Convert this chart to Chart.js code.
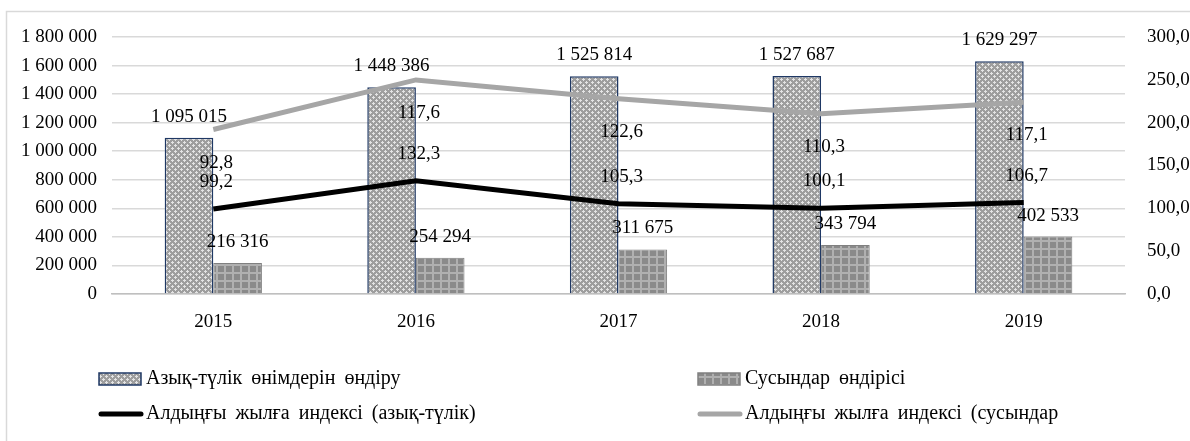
<!DOCTYPE html>
<html><head><meta charset="utf-8">
<script src="https://cdn.jsdelivr.net/npm/chart.js@4.4.0/dist/chart.umd.min.js"></script>
<style>html,body{margin:0;padding:0;background:#fff}#wrap{width:1190px;height:441px;position:relative}</style>
</head><body><div id="wrap"><canvas id="c" width="1190" height="441"></canvas></div>
<script>
const years = ['2015', '2016', '2017', '2018', '2019'];
const foodProduction = [1095015, 1448386, 1525814, 1527687, 1629297];
const drinksProduction = [216316, 254294, 311675, 343794, 402533];
const foodIndex = [99.2, 132.3, 105.3, 100.1, 106.7];
const drinksIndex = [92.8, 117.6, 122.6, 110.3, 117.1];
const seriesNames = ['Азық-түлік өнімдерін өндіру', 'Сусындар өндірісі', 'Алдыңғы жылға индексі (азық-түлік)', 'Алдыңғы жылға индексі (сусындар'];

const FONT = '"Liberation Serif", "Times New Roman", serif';

function makePattern(size, draw) {
  const c = document.createElement('canvas');
  c.width = size; c.height = size;
  const g = c.getContext('2d');
  draw(g);
  return document.getElementById('c').getContext('2d').createPattern(c, 'repeat');
}
const foodPattern = makePattern(6, g => {
  g.fillStyle = '#9e9e9e'; g.fillRect(0, 0, 6, 6);
  g.fillStyle = '#e4e4e4';
  g.fillRect(1, 0, 1, 3); g.fillRect(0, 1, 3, 1);
  g.fillRect(4, 3, 1, 3); g.fillRect(3, 4, 3, 1);
});
const drinksPattern = makePattern(8, g => {
  g.fillStyle = '#8a8a8a'; g.fillRect(0, 0, 8, 8);
  g.fillStyle = '#b0b0b0';
  g.fillRect(0, 0, 8, 2); g.fillRect(0, 0, 2, 8);
});

const fmtSpace = v => Math.round(v).toString().replace(/\B(?=(\d{3})+(?!\d))/g, ' ');
const fmtComma = v => Number(v).toFixed(1).replace('.', ',');

const decorPlugin = {
  id: 'decor',
  beforeDraw(chart) {
    const ctx = chart.ctx;
    ctx.save();
    ctx.fillStyle = '#fff';
    ctx.fillRect(0, 0, chart.width, chart.height);
    ctx.strokeStyle = '#d9d9d9';
    ctx.lineWidth = 1.5;
    ctx.strokeRect(6.5, 11.5, 1300, 600);
    ctx.restore();
  },
  afterDatasetsDraw(chart) {
    const ctx = chart.ctx;
    ctx.save();
    ctx.font = '19px ' + FONT;
    ctx.fillStyle = '#000';
    ctx.textAlign = 'center';
    ctx.textBaseline = 'middle';
    chart.data.datasets.forEach((ds, i) => {
      const meta = chart.getDatasetMeta(i);
      meta.data.forEach((el, j) => {
        const v = ds.data[j];
        if (ds.type === 'bar') {
          ctx.fillText(fmtSpace(v), el.x, el.y - 21);
        } else if (ds.labelSide === 'above') {
          ctx.fillText(fmtComma(v), el.x + 3, el.y - 27);
        } else {
          ctx.fillText(fmtComma(v), el.x + 3, el.y + 33);
        }
      });
    });
    ctx.restore();
  },
  afterDraw(chart) {
    const ctx = chart.ctx;
    ctx.save();
    ctx.font = '20px ' + FONT;
    ctx.fillStyle = '#000';
    ctx.textAlign = 'left';
    ctx.textBaseline = 'middle';
    try { ctx.wordSpacing = '4px'; } catch (e) {}
    const cols = [99, 698];
    const rows = [379, 414];
    const ds = chart.data.datasets;
    const items = [ds[2], ds[3], ds[0], ds[1]];
    items.forEach((d, k) => {
      const x = cols[k % 2], y = rows[Math.floor(k / 2)];
      if (d.type === 'bar') {
        ctx.fillStyle = d.backgroundColor;
        ctx.fillRect(x, y - 6, 42, 12);
        ctx.strokeStyle = d.borderColor;
        ctx.lineWidth = 1.5;
        ctx.strokeRect(x, y - 6, 42, 12);
      } else {
        ctx.strokeStyle = d.borderColor;
        ctx.lineWidth = 5;
        ctx.lineCap = 'round';
        ctx.beginPath(); ctx.moveTo(x + 2, y); ctx.lineTo(x + 42, y); ctx.stroke();
      }
      ctx.fillStyle = '#000';
      ctx.fillText(d.label, x + 47, y);
    });
    ctx.restore();
  }
};

new Chart(document.getElementById('c'), {
  data: {
    labels: years,
    datasets: [
      { type: 'line', label: seriesNames[2], data: foodIndex, yAxisID: 'y1', borderColor: '#000000', borderWidth: 5, pointRadius: 0, tension: 0, order: 0, labelSide: 'above' },
      { type: 'line', label: seriesNames[3], data: drinksIndex, yAxisID: 'y1', borderColor: '#a6a6a6', borderWidth: 5, pointRadius: 0, tension: 0, order: 0, labelSide: 'below' },
      { type: 'bar', label: seriesNames[0], data: foodProduction, yAxisID: 'y', backgroundColor: foodPattern, borderColor: '#1f3864', borderWidth: 1.5, order: 1, barPercentage: 1, categoryPercentage: 0.48 },
      { type: 'bar', label: seriesNames[1], data: drinksProduction, yAxisID: 'y', backgroundColor: drinksPattern, borderColor: '#808080', borderWidth: 1, order: 1, barPercentage: 1, categoryPercentage: 0.48 }
    ]
  },
  options: {
    responsive: false,
    animation: false,
    devicePixelRatio: 1,
    layout: { padding: { top: 37, bottom: 97, left: 0, right: 0 } },
    plugins: { legend: { display: false }, tooltip: { enabled: false } },
    scales: {
      x: {
        stacked: false,
        grid: { display: false, drawTicks: false },
        border: { display: true, color: '#bfbfbf', width: 1.5 },
        ticks: { color: '#000', font: { family: FONT, size: 19 }, padding: 17 },
        afterFit(s) { s.height = 50; }
      },
      y: {
        position: 'left', min: 0, max: 1800000,
        grid: { color: '#d9d9d9', lineWidth: 1.5, drawTicks: false },
        border: { display: false },
        ticks: { stepSize: 200000, color: '#000', font: { family: FONT, size: 19 }, padding: 15, callback: v => fmtSpace(v) },
        afterFit(s) { s.width = 112; }
      },
      y1: {
        position: 'right', min: 0, max: 300, stacked: true,
        grid: { display: false, drawTicks: false },
        border: { display: false },
        ticks: { stepSize: 50, color: '#000', font: { family: FONT, size: 19 }, padding: 22, callback: v => fmtComma(v) },
        afterFit(s) { s.width = 65; }
      }
    }
  },
  plugins: [decorPlugin]
});
</script></body></html>
